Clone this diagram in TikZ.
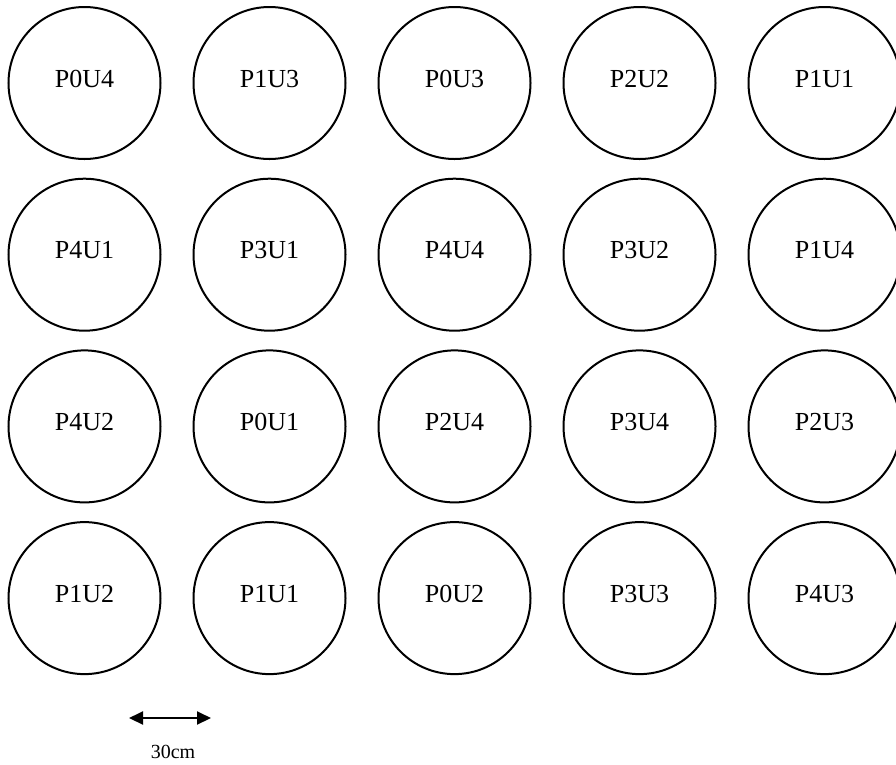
\documentclass[tikz,border=0pt]{standalone}
\usepackage{fontspec}
\setmainfont{Liberation Serif}
\usetikzlibrary{arrows.meta}
\begin{document}
\begin{tikzpicture}[x=1pt,y=-1pt,
  cell/.style={circle,draw=black,line width=2pt,minimum size=152pt,inner sep=0pt},
  lbl/.style={font=\fontsize{26}{30}\selectfont,inner sep=0pt,text depth=0pt,yshift=4.5pt},
  dim/.style={line width=2pt,{Triangle[length=14pt,width=13pt]}-{Triangle[length=14pt,width=13pt]}},
  dimtxt/.style={font=\fontsize{20}{24}\selectfont,inner sep=0pt}]
\useasboundingbox (0,0) rectangle (896,764);
\clip (0,0) rectangle (896,764);
\def\labels{{"P0U4","P1U3","P0U3","P2U2","P1U1"},{"P4U1","P3U1","P4U4","P3U2","P1U4"},{"P4U2","P0U1","P2U4","P3U4","P2U3"},{"P1U2","P1U1","P0U2","P3U3","P4U3"}}
\foreach \r/\rl in {0/{P0U4,P1U3,P0U3,P2U2,P1U1},1/{P4U1,P3U1,P4U4,P3U2,P1U4},2/{P4U2,P0U1,P2U4,P3U4,P2U3},3/{P1U2,P1U1,P0U2,P3U3,P4U3}}{
  \foreach \t [count=\c from 0] in \rl {
    \node[cell] (c\r\c) at ({84.5+185*\c},{83+171.7*\r}) {};
    \node[lbl] (t\r\c) at (c\r\c) {\t};
  }
}
\coordinate (aL) at (129,718);
\coordinate (aR) at (211,718);
\draw[dim] (aL) -- (aR);
\node[dimtxt] (d30) at (173,752) {30cm};
\end{tikzpicture}
\end{document}
